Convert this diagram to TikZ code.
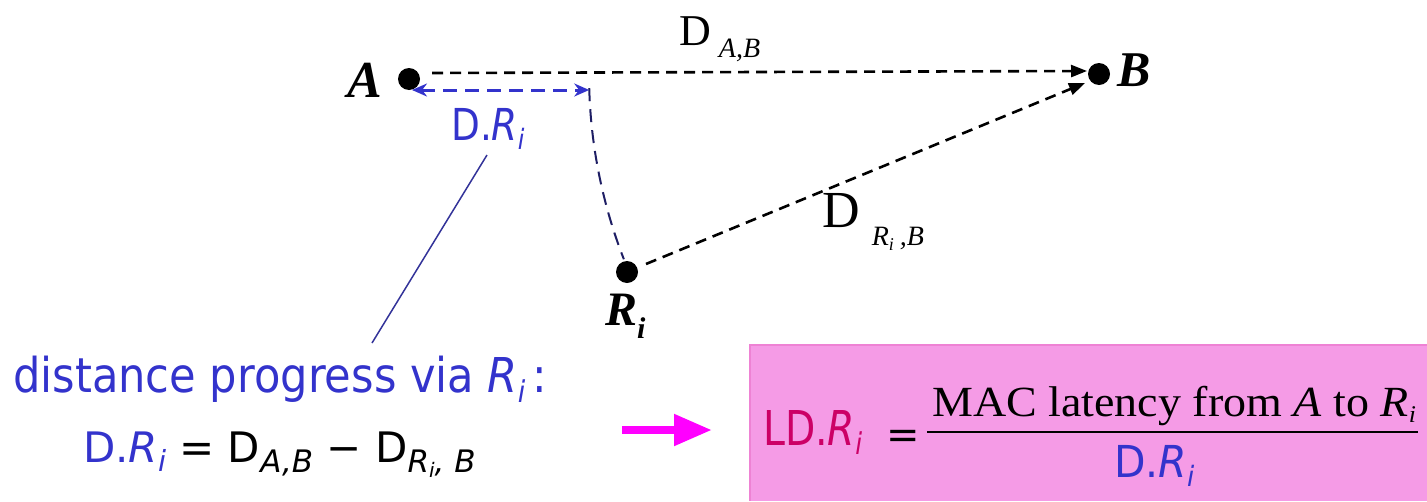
\documentclass[tikz,border=0pt]{standalone}
\usepackage{fontspec}
\setmainfont{Liberation Serif}
\newfontfamily\sansf{DejaVu Sans}
\usetikzlibrary{arrows.meta}
\definecolor{myblue}{RGB}{51,51,204}
\definecolor{navyarc}{RGB}{30,30,100}
\definecolor{leader}{RGB}{51,51,153}
\definecolor{arrowmag}{RGB}{255,0,255}
\definecolor{crimson}{RGB}{204,0,102}
\definecolor{pinkbox}{RGB}{245,155,230}
\definecolor{pinkedge}{RGB}{238,130,212}
\newcommand\fs[1]{\fontsize{#1}{#1}\selectfont}
\newcommand\lowsub[2]{\raisebox{-#1}{#2}}
\tikzset{
  dot/.style={circle,fill=black,inner sep=0pt,minimum size=22pt},
  txt/.style={inner sep=0pt,anchor=base west},
  blackdash/.style={draw=black,line width=2.6pt,dash pattern=on 11pt off 7pt,
     -{Triangle[length=16pt,width=12pt]}},
  bluedash/.style={draw=myblue,line width=3pt,dash pattern=on 14pt off 8pt,
     {Stealth[length=15pt,width=13pt]}-{Stealth[length=15pt,width=13pt]}},
}
\begin{document}
\begin{tikzpicture}[x=1pt,y=-1pt]
\useasboundingbox (0,0) rectangle (1427,501);
% points
\node[dot] (A) at (409,79) {};
\node[dot] (B) at (1099,74) {};
\node[dot] (R) at (627,272) {};
\node[txt] (Alab) at (347,97) {\fs{52}\bfseries\itshape A};
\node[txt] (Blab) at (1117,86) {\fs{50}\bfseries\itshape B};
\node[txt] (Rlab) at (605,325) {\fs{48}\bfseries\itshape R\lowsub{13pt}{\fs{30}i}};
% arc coordinates
\coordinate (arcS) at ([shift={(181.6:510pt)}]B.center);
\coordinate (Ae) at (432,73);
\coordinate (Be) at (1087,71);
\coordinate (Bs) at (1085,83);
\coordinate (Rs) at (646,264);
\coordinate (Al) at (412,90);
% connectors
\draw[blackdash] (Ae) -- (Be);
\draw[blackdash] (Rs) -- (Bs);
\draw[bluedash] (Al) -- (arcS |- Al);
\draw[navyarc,line width=2pt,dash pattern=on 13pt off 8pt] (arcS) arc[start angle=181.6,end angle=201.3,radius=510pt];
% labels
\node[txt] (DAB) at (679,45) {\fs{44}D\hspace{8pt}\lowsub{12pt}{\fs{28}\itshape A,B}};
\node[txt] (DRB) at (822,227) {\fs{52}D\hspace{12pt}\lowsub{18pt}{\fs{28}\itshape R\lowsub{5pt}{\fs{18}i}\hspace{6pt},B}};
\node[txt,text=myblue] (DRi) at (451,140) {\scalebox{0.85}[1]{\sansf\fs{44}D.\textit{R}\lowsub{9pt}{\fs{28}\itshape i}}};
\coordinate (Lt) at (487,155);
\coordinate (Lb) at (372,343);
\draw[leader,line width=1.5pt] (Lt) -- (Lb);
% bottom-left text
\node[txt,text=myblue] (dp) at (13,392) {\scalebox{0.9}[1]{\sansf\fs{48}distance progress via \textit{R}\lowsub{10pt}{\fs{30}\itshape i}\,:}};
\node[txt] (eq) at (83,462) {\sansf\fs{42}\textcolor{myblue}{D.\textit{R}\lowsub{9pt}{\fs{29}\itshape i}} = D\lowsub{10pt}{\fs{31}\itshape A,B} − D\lowsub{10pt}{\fs{31}\itshape R\lowsub{5pt}{\fs{20}i}, B}};
% pink box
\fill[pinkbox] (750,345) rectangle (1427,501);
\draw[pinkedge,line width=1.5pt] (750,501) -- (750,345) -- (1427,345);
\node[txt,text=crimson] (LD) at (763,445) {\scalebox{0.82}[1]{\sansf\fs{48}LD.\textit{R}\lowsub{9pt}{\fs{30}\itshape i}}};
\node[txt] (eqs) at (886,448) {\sansf\fs{40}=};
\draw[black,line width=2pt] (927,432) -- (1418,432);
\node[txt] (num) at (932,416) {\scalebox{1.07}[1]{\fs{43}MAC latency from \textit{A} to \textit{R}\lowsub{6pt}{\fs{24}\itshape i}}};
\node[txt,text=myblue] (den) at (1114,477) {\scalebox{0.93}[1]{\sansf\fs{44}D.\textit{R}\lowsub{9pt}{\fs{28}\itshape i}}};
\coordinate (Ms) at (622,430);
\coordinate (Me) at (712,430);
\draw[arrowmag,line width=8pt,-{Triangle[length=38pt,width=30pt]}] (Ms) -- (Me);
\end{tikzpicture}
\end{document}
